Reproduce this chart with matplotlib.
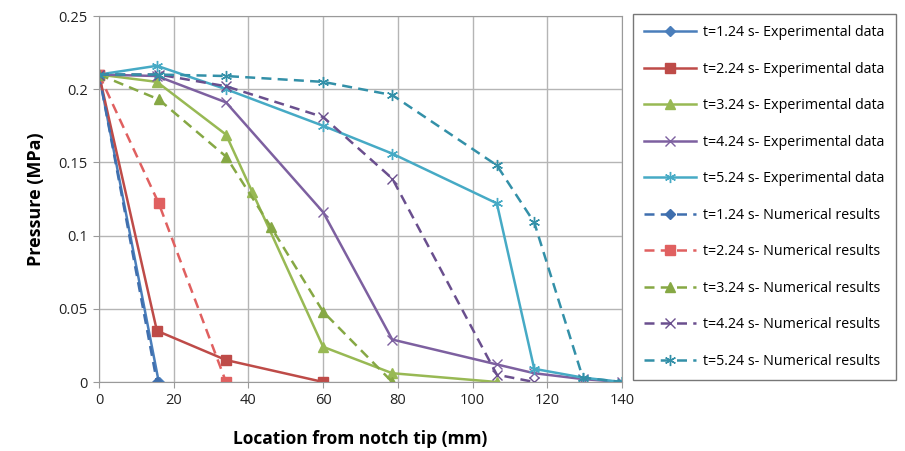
import matplotlib
matplotlib.use("Agg")
import matplotlib.pyplot as plt

plt.rcParams['font.family'] = ['Open Sans', 'DejaVu Sans']

# experimental data (solid lines)
x_exp1 = [0, 16]
p_exp1 = [0.21, 0]
x_exp2 = [0, 15.5, 34, 60]
p_exp2 = [0.21, 0.035, 0.015, 0]
x_exp3 = [0, 15.5, 34, 41, 60, 78.5, 106.5]
p_exp3 = [0.21, 0.205, 0.169, 0.13, 0.024, 0.006, 0]
x_exp4 = [0, 15.5, 34, 60, 78.5, 106.5, 116.5, 129.5, 140]
p_exp4 = [0.21, 0.209, 0.191, 0.116, 0.029, 0.012, 0.006, 0.002, 0]
x_exp5 = [0, 15.5, 34, 60, 78.5, 106.5, 116.5, 129.5, 140]
p_exp5 = [0.21, 0.216, 0.2, 0.175, 0.156, 0.122, 0.009, 0.003, 0]

# numerical results (dashed lines)
x_num1 = [0, 15.5]
p_num1 = [0.21, 0]
x_num2 = [0, 16, 34]
p_num2 = [0.21, 0.122, 0]
x_num3 = [0, 16, 34, 46, 60, 78.5]
p_num3 = [0.21, 0.193, 0.154, 0.106, 0.048, 0]
x_num4 = [0, 16, 34, 60, 78.5, 106.5, 116.5]
p_num4 = [0.21, 0.21, 0.202, 0.181, 0.139, 0.005, 0]
x_num5 = [0, 16, 34, 60, 78.5, 106.5, 116.5, 129.5, 140]
p_num5 = [0.21, 0.21, 0.209, 0.205, 0.196, 0.148, 0.109, 0.003, 0]

times = ['1.24', '2.24', '3.24', '4.24', '5.24']
exp_series = [(x_exp1, p_exp1), (x_exp2, p_exp2), (x_exp3, p_exp3),
              (x_exp4, p_exp4), (x_exp5, p_exp5)]
num_series = [(x_num1, p_num1), (x_num2, p_num2), (x_num3, p_num3),
              (x_num4, p_num4), (x_num5, p_num5)]

exp_colors = ['#4a7ebb', '#be4b48', '#98b954', '#7d60a0', '#46aac5']
num_colors = ['#3f6fae', '#e06060', '#86a844', '#6a4f8e', '#3390a8']
markers = ['D', 's', '^', 'x', (6, 2, 0)]
msizes = [5, 7, 7, 7, 8]

fig = plt.figure(figsize=(9.05, 4.51), dpi=100)
ax = fig.add_axes([99 / 905, 1 - 382 / 451, 523 / 905, 366 / 451])

handles = []
for i in range(5):
    x, p = exp_series[i]
    h, = ax.plot(x, p, color=exp_colors[i], lw=1.8, marker=markers[i],
                 ms=msizes[i], mew=1.0, label='t=%s s- Experimental data' % times[i])
    handles.append(h)
for i in range(5):
    x, p = num_series[i]
    h, = ax.plot(x, p, color=num_colors[i], lw=1.8, ls=(0, (4, 2.5)),
                 marker=markers[i], ms=msizes[i], mew=1.0,
                 label='t=%s s- Numerical results' % times[i])
    handles.append(h)

ax.set_xlim(0, 140)
ax.set_ylim(0, 0.25)
ax.set_xticks(range(0, 141, 20))
ax.set_yticks([0, 0.05, 0.1, 0.15, 0.2, 0.25])
ax.set_yticklabels(['0', '0.05', '0.1', '0.15', '0.2', '0.25'])
ax.grid(True, color='#b5b5b5', lw=1.0)
ax.set_axisbelow(True)
for s in ax.spines.values():
    s.set_color('#9a9a9a')
ax.tick_params(direction='out', length=4, color='#9a9a9a',
               labelsize=10.5, labelcolor='#222222', pad=4)

ax.set_ylabel('Pressure (MPa)', fontsize=13, fontweight='bold', labelpad=10)
ax.set_xlabel('Location from notch tip (mm)', fontsize=12.5, fontweight='bold', labelpad=16)

leg = fig.legend(handles=handles, loc='upper left',
                 bbox_to_anchor=(633 / 905, 1 - 14 / 451),
                 fontsize=10.3, frameon=True, fancybox=False,
                 edgecolor='#555555', handlelength=3.6, handletextpad=0.5,
                 labelspacing=1.5, borderpad=0.8, borderaxespad=0)
leg.get_frame().set_linewidth(1.0)

fig.savefig('out.png', dpi=100)
